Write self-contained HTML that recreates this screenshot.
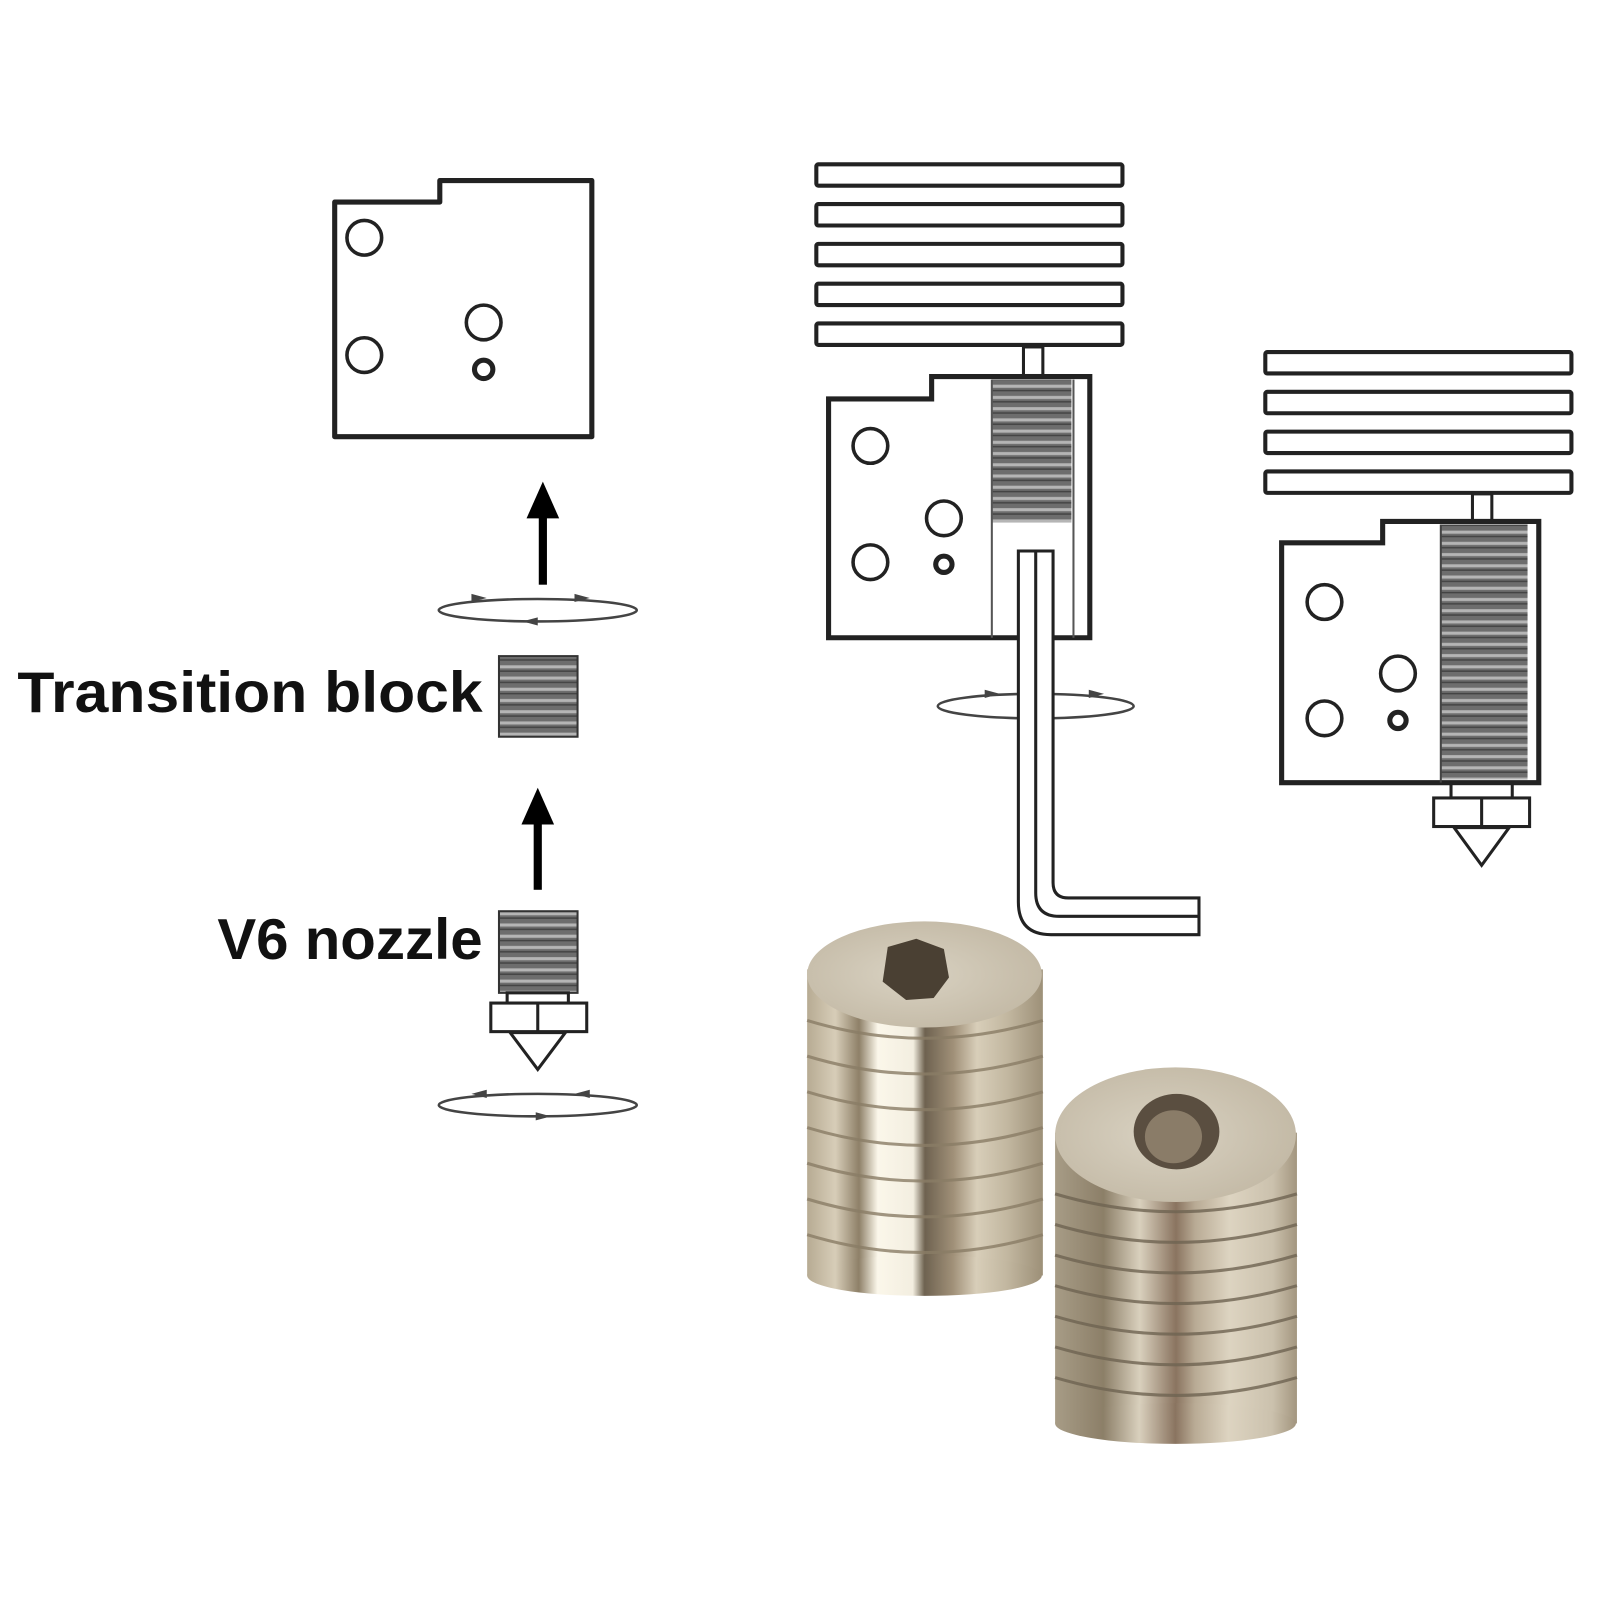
<!DOCTYPE html>
<html><head><meta charset="utf-8"><style>
html,body{margin:0;padding:0;background:#fff;}
svg{display:block;}
text{font-family:"Liberation Sans","DejaVu Sans",sans-serif;font-weight:bold;fill:#111;}
</style></head><body>
<svg width="1600" height="1600" viewBox="0 0 1568 1568" xmlns="http://www.w3.org/2000/svg">
<defs>
<pattern id="thr" x="0" y="0" width="20" height="11" patternUnits="userSpaceOnUse">
<rect width="20" height="11" fill="#6d6d6d"/>
<rect y="3" width="20" height="3" fill="#b5b5b5"/>
<rect y="8" width="20" height="1.5" fill="#444"/>
</pattern>
<linearGradient id="cylA" x1="0" x2="1" y1="0" y2="0">
<stop offset="0" stop-color="#b7ab93"/>
<stop offset="0.12" stop-color="#d7cdb8"/>
<stop offset="0.22" stop-color="#8e8068"/>
<stop offset="0.3" stop-color="#fbf7ea"/>
<stop offset="0.45" stop-color="#f3eee0"/>
<stop offset="0.5" stop-color="#6e6250"/>
<stop offset="0.62" stop-color="#a09078"/>
<stop offset="0.72" stop-color="#d8ceb9"/>
<stop offset="0.85" stop-color="#c2b7a0"/>
<stop offset="1" stop-color="#9d9078"/>
</linearGradient>
<linearGradient id="cylB" x1="0" x2="1" y1="0" y2="0">
<stop offset="0" stop-color="#a79c86"/>
<stop offset="0.2" stop-color="#8c7f68"/>
<stop offset="0.35" stop-color="#d9d0bd"/>
<stop offset="0.5" stop-color="#8a7460"/>
<stop offset="0.58" stop-color="#b9ab95"/>
<stop offset="0.72" stop-color="#ddd4c1"/>
<stop offset="0.9" stop-color="#cbc1ad"/>
<stop offset="1" stop-color="#a3967f"/>
</linearGradient>
<radialGradient id="face" cx="0.45" cy="0.5" r="0.6">
<stop offset="0" stop-color="#d9d2c2"/>
<stop offset="1" stop-color="#c2b8a4"/>
</radialGradient>
</defs>

<g fill="none" stroke="#222" stroke-width="5" stroke-linejoin="round">
<!-- left block -->
<path d="M328 198 H431 V177 H580 V428 H328 Z"/>
<circle cx="357" cy="233" r="17" stroke-width="3.5"/>
<circle cx="357" cy="348" r="17" stroke-width="3.5"/>
<circle cx="474" cy="316" r="17" stroke-width="3.5"/>
<circle cx="474" cy="362" r="9" stroke-width="5"/>
</g>
<!-- arrows -->
<rect x="528" y="505" width="8" height="68" fill="#000"/>
<polygon points="532,472 516,508 548,508" fill="#000"/>
<rect x="523" y="806" width="8" height="66" fill="#000"/>
<polygon points="527,772 511,808 543,808" fill="#000"/>
<!-- rotation ellipses -->
<g fill="none" stroke="#444" stroke-width="2.5">
<ellipse cx="527" cy="598" rx="97" ry="11"/>
<ellipse cx="527" cy="1083" rx="97" ry="11"/>
<ellipse cx="1015" cy="692" rx="96" ry="12"/>
</g>
<g fill="#444">
<polygon points="477,586 462,582 462,590"/><polygon points="578,586 563,582 563,590"/><polygon points="512,609 527,605 527,613"/>
<polygon points="462,1072 477,1068 477,1076"/><polygon points="563,1072 578,1068 578,1076"/><polygon points="540,1094 525,1090 525,1098"/>
<polygon points="980,680 965,676 965,684"/><polygon points="1082,680 1067,676 1067,684"/>
</g>
<!-- labels -->
<text x="17" y="698" font-size="56" textLength="456" lengthAdjust="spacingAndGlyphs">Transition block</text>
<text x="213" y="940" font-size="56" textLength="260" lengthAdjust="spacingAndGlyphs">V6 nozzle</text>
<!-- transition thread -->
<rect x="489" y="643" width="77" height="79" fill="url(#thr)" stroke="#333" stroke-width="2"/>
<!-- nozzle -->
<rect x="489" y="893" width="77" height="80" fill="url(#thr)" stroke="#333" stroke-width="2"/>
<g fill="#fff" stroke="#222" stroke-width="3">
<rect x="497" y="973" width="60" height="10"/>
<rect x="481" y="983" width="94" height="28"/>
<line x1="527" y1="983" x2="527" y2="1011"/>
<polygon points="500,1012 554,1012 527,1048"/>
</g>

<!-- middle assembly -->
<g fill="#fff" stroke="#222" stroke-width="4">
<rect x="800" y="161" width="300" height="21" rx="2"/>
<rect x="800" y="200" width="300" height="21" rx="2"/>
<rect x="800" y="239" width="300" height="21" rx="2"/>
<rect x="800" y="278" width="300" height="21" rx="2"/>
<rect x="800" y="317" width="300" height="21" rx="2"/>
<rect x="1003" y="340" width="19" height="28" stroke-width="3"/>
<path d="M812 391 H913 V369 H1068 V625 H812 Z" stroke-width="5"/>
</g>
<rect x="972" y="372" width="78" height="140" fill="url(#thr)"/>
<line x1="972" y1="372" x2="972" y2="625" stroke="#555" stroke-width="2"/>
<line x1="1052" y1="372" x2="1052" y2="625" stroke="#555" stroke-width="2"/>
<g fill="none" stroke="#222" stroke-width="3.5">
<circle cx="853" cy="437" r="17"/>
<circle cx="853" cy="551" r="17"/>
<circle cx="925" cy="508" r="17"/>
<circle cx="925" cy="553" r="8" stroke-width="5"/>
</g>
<!-- hex key -->
<g fill="none" stroke="#222" stroke-width="3">
<path d="M998 540 H1032 V865 Q1032 880 1047 880 H1175 V916 H1030 Q998 916 998 884 Z" fill="#fff"/>
<path d="M1015 540 V875 Q1015 898 1038 898 H1175"/>
</g>

<!-- right assembly -->
<g fill="#fff" stroke="#222" stroke-width="4">
<rect x="1240" y="345" width="300" height="21" rx="2"/>
<rect x="1240" y="384" width="300" height="21" rx="2"/>
<rect x="1240" y="423" width="300" height="21" rx="2"/>
<rect x="1240" y="462" width="300" height="21" rx="2"/>
<rect x="1443" y="484" width="19" height="27" stroke-width="3"/>
<path d="M1256 532 H1355 V511 H1508 V767 H1256 Z" stroke-width="5"/>
</g>
<rect x="1412" y="514" width="85" height="250" fill="url(#thr)"/>
<line x1="1412" y1="514" x2="1412" y2="767" stroke="#444" stroke-width="2"/>
<g fill="none" stroke="#222" stroke-width="3.5">
<circle cx="1298" cy="590" r="17"/>
<circle cx="1298" cy="704" r="17"/>
<circle cx="1370" cy="660" r="17"/>
<circle cx="1370" cy="706" r="8" stroke-width="5"/>
</g>
<g fill="#fff" stroke="#222" stroke-width="3">
<rect x="1422" y="768" width="60" height="14"/>
<rect x="1405" y="782" width="94" height="28"/>
<line x1="1452" y1="782" x2="1452" y2="810"/>
<polygon points="1425,811 1479,811 1452,848"/>
</g>

<!-- photo: left cylinder -->
<rect x="791" y="950" width="231" height="300" fill="url(#cylA)"/>
<ellipse cx="906" cy="1250" rx="115" ry="20" fill="url(#cylA)"/>
<g stroke="#8a7d66" stroke-width="3" fill="none" opacity="0.8">
<path d="M791 1000 Q906 1035 1022 1000"/><path d="M791 1035 Q906 1070 1022 1035"/>
<path d="M791 1070 Q906 1105 1022 1070"/><path d="M791 1105 Q906 1140 1022 1105"/>
<path d="M791 1140 Q906 1175 1022 1140"/><path d="M791 1175 Q906 1210 1022 1175"/>
<path d="M791 1210 Q906 1245 1022 1210"/>
</g>
<ellipse cx="906" cy="955" rx="115" ry="52" fill="url(#face)"/>
<polygon points="870,928 898,920 925,930 930,958 915,978 888,980 865,962" fill="#4a4033"/>

<!-- photo: right cylinder -->
<rect x="1034" y="1110" width="237" height="285" fill="url(#cylB)"/>
<ellipse cx="1152" cy="1395" rx="118" ry="20" fill="url(#cylB)"/>
<g stroke="#6f6452" stroke-width="3" fill="none" opacity="0.8">
<path d="M1034 1170 Q1152 1205 1271 1170"/><path d="M1034 1200 Q1152 1235 1271 1200"/>
<path d="M1034 1230 Q1152 1265 1271 1230"/><path d="M1034 1260 Q1152 1295 1271 1260"/>
<path d="M1034 1290 Q1152 1325 1271 1290"/><path d="M1034 1320 Q1152 1355 1271 1320"/>
<path d="M1034 1350 Q1152 1385 1271 1350"/>
</g>
<ellipse cx="1152" cy="1112" rx="118" ry="66" fill="url(#face)"/>
<ellipse cx="1153" cy="1109" rx="42" ry="37" fill="#5a4e40"/>
<ellipse cx="1150" cy="1114" rx="28" ry="26" fill="#8a7c68"/>
</svg>
</body></html>
